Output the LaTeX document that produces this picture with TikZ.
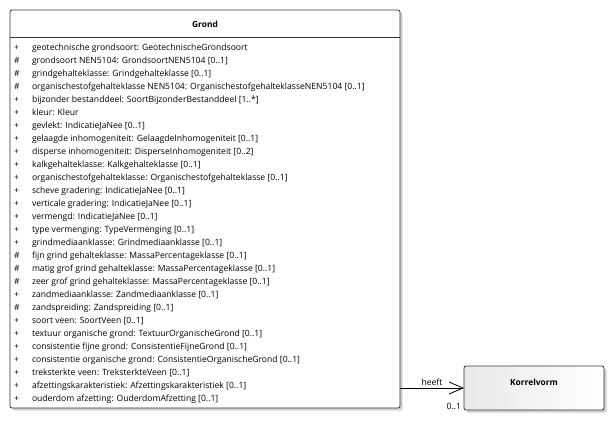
\documentclass[tikz,border=0pt]{standalone}
\usepackage{fontspec}
\setmainfont{Open Sans}
\usetikzlibrary{arrows.meta,shadows}
\begin{document}
\begin{tikzpicture}[x=1pt,y=-1pt,
  every node/.style={inner sep=0pt, outer sep=0pt},
  classbox/.style={draw=black!80, line width=0.8pt, rounded corners=2pt, fill=white,
    drop shadow={shadow xshift=2.5pt, shadow yshift=-2.5pt, fill=black!18, opacity=1},
    anchor=north west},
  txt/.style={font=\fontsize{8.6}{10}\selectfont},
  title/.style={font=\fontsize{8.4}{10}\selectfont\bfseries},
  attr/.style={txt, anchor=base west},
  assoc/.style={draw=black, line width=0.8pt}
]
\useasboundingbox (0,0) rectangle (615,420);

% class Grond
\node[classbox, minimum width=390pt, minimum height=398pt] (grond) at (10,10) {};
\node[title] (grondname) at (205,24.5) {Grond};
\draw[line width=0.8pt, black!80] (10,37) -- (400,37);

\foreach [count=\i from 0] \v/\t in {
  +/{geotechnische grondsoort: GeotechnischeGrondsoort},
  \#/{grondsoort NEN5104: GrondsoortNEN5104 [0..1]},
  \#/{grindgehalteklasse: Grindgehalteklasse [0..1]},
  \#/{organischestofgehalteklasse NEN5104: OrganischestofgehalteklasseNEN5104 [0..1]},
  +/{bijzonder bestanddeel: SoortBijzonderBestanddeel [1..*]},
  +/{kleur: Kleur},
  +/{gevlekt: IndicatieJaNee [0..1]},
  +/{gelaagde inhomogeniteit: GelaagdeInhomogeniteit [0..1]},
  +/{disperse inhomogeniteit: DisperseInhomogeniteit [0..2]},
  +/{kalkgehalteklasse: Kalkgehalteklasse [0..1]},
  +/{organischestofgehalteklasse: Organischestofgehalteklasse [0..1]},
  +/{scheve gradering: IndicatieJaNee [0..1]},
  +/{verticale gradering: IndicatieJaNee [0..1]},
  +/{vermengd: IndicatieJaNee [0..1]},
  +/{type vermenging: TypeVermenging [0..1]},
  +/{grindmediaanklasse: Grindmediaanklasse [0..1]},
  \#/{fijn grind gehalteklasse: MassaPercentageklasse [0..1]},
  \#/{matig grof grind gehalteklasse: MassaPercentageklasse [0..1]},
  \#/{zeer grof grind gehalteklasse: MassaPercentageklasse [0..1]},
  +/{zandmediaanklasse: Zandmediaanklasse [0..1]},
  \#/{zandspreiding: Zandspreiding [0..1]},
  +/{soort veen: SoortVeen [0..1]},
  +/{textuur organische grond: TextuurOrganischeGrond [0..1]},
  +/{consistentie fijne grond: ConsistentieFijneGrond [0..1]},
  +/{consistentie organische grond: ConsistentieOrganischeGrond [0..1]},
  +/{treksterkte veen: TreksterkteVeen [0..1]},
  +/{afzettingskarakteristiek: Afzettingskarakteristiek [0..1]},
  +/{ouderdom afzetting: OuderdomAfzetting [0..1]}} {
  \node[attr] (v\i) at (14,50.5+13*\i) {\v};
  \node[attr] (a\i) at (32,50.5+13*\i) {\t};
}

% class Korrelvorm
\node[classbox, fill=none, left color=black!9, right color=white,
  minimum width=140pt, minimum height=44pt] (korrel) at (464,366) {};
\node[title] (korrelname) at (534,382) {Korrelvorm};

% association
\draw[assoc, -{Straight Barb[length=14pt, width=12pt, line width=0.8pt]}] (grond.east |- korrel.west) -- (korrel.west);
\node[txt, anchor=base] (heeft) at (432,385) {heeft};
\node[txt, anchor=base east] (mult) at (461,409) {0..1};
\end{tikzpicture}
\end{document}
